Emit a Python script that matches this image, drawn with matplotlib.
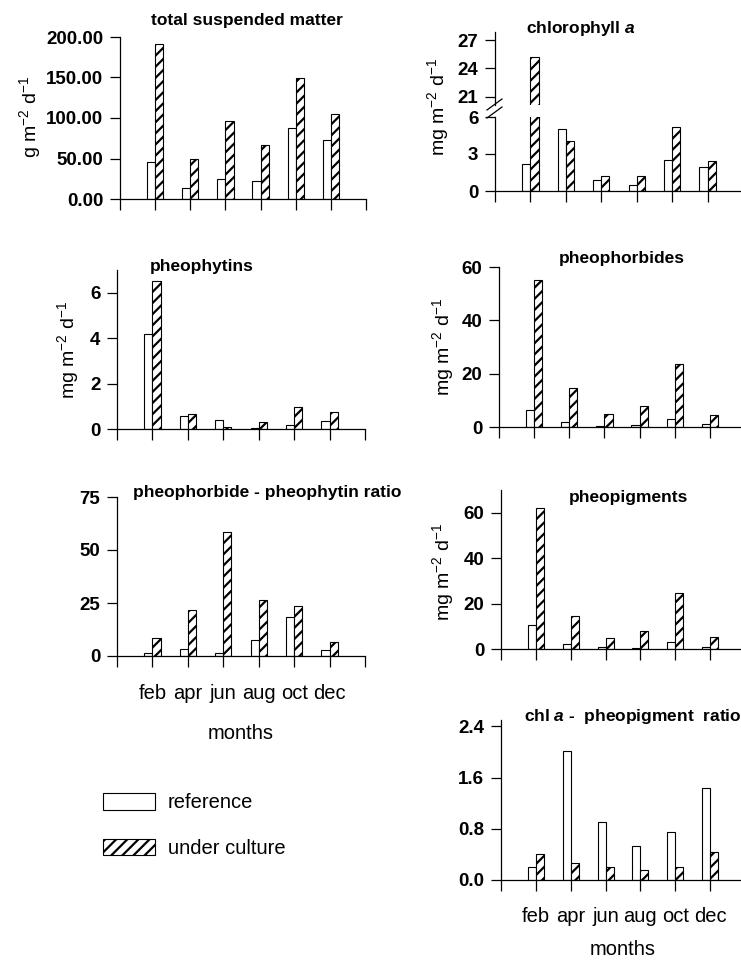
import numpy as np
import matplotlib
matplotlib.use("Agg")
import matplotlib.pyplot as plt
from matplotlib.lines import Line2D

plt.rcParams['font.family'] = ['Liberation Sans', 'DejaVu Sans']
plt.rcParams['mathtext.fontset'] = 'custom'
plt.rcParams['mathtext.rm'] = 'Liberation Sans'
plt.rcParams['mathtext.it'] = 'Liberation Sans:bold:italic'
plt.rcParams['mathtext.bf'] = 'Liberation Sans:bold'
plt.rcParams['hatch.linewidth'] = 1.6
plt.rcParams['axes.linewidth'] = 0.9

# data
months = ['feb', 'apr', 'jun', 'aug', 'oct', 'dec']
tsm_ref = [46, 14, 25, 22, 88, 73]
tsm_cult = [191, 50, 96, 67, 149, 105]
chl_ref = [2.2, 5.0, 0.88, 0.48, 2.52, 1.94]
chl_cult = [25.2, 4.06, 1.19, 1.25, 5.18, 2.42]
phy_ref = [4.2, 0.56, 0.38, 0.04, 0.16, 0.34]
phy_cult = [6.5, 0.66, 0.09, 0.29, 0.97, 0.74]
pbd_ref = [6.5, 1.9, 0.4, 0.6, 3.1, 1.25]
pbd_cult = [55.3, 14.5, 5.0, 8.0, 23.8, 4.6]
rat_ref = [1.6, 3.5, 1.4, 7.4, 18.2, 3.0]
rat_cult = [8.5, 21.9, 58.5, 26.6, 23.7, 6.4]
pig_ref = [10.6, 2.2, 0.7, 0.4, 3.2, 1.0]
pig_cult = [62.2, 14.7, 4.9, 8.0, 24.6, 5.2]
cp_ref = [0.2, 2.02, 0.90, 0.53, 0.75, 1.43]
cp_cult = [0.41, 0.27, 0.21, 0.15, 0.20, 0.44]

W, H = 741, 965
fig = plt.figure(figsize=(W / 100, H / 100), dpi=100)


def box(x0, x1, ytop, ybot):
    # pixel box -> figure fraction rect
    return [x0 / W, 1 - ybot / H, (x1 - x0) / W, (ybot - ytop) / H]


def fx(x):
    return x / W


def fy(y):
    return 1 - y / H


bw = 0.23
xpos = np.arange(1, len(months) + 1)
ytick_kw = dict(direction='out', length=7, width=0.9, pad=5, labelsize=13.5)


def panel(rect, ref, cult, ylim, yticks, fmt, show_months=False,
          tickpad=12.5, labelpad=15):
    ax = fig.add_axes(rect)
    b1 = ax.bar(xpos - bw / 2, ref, bw, color='white', edgecolor='black',
                linewidth=0.8, label='reference')
    b2 = ax.bar(xpos + bw / 2, cult, bw, color='white', edgecolor='black',
                linewidth=0.8, hatch='///', label='under culture')
    ax.set_xlim(0, 7)
    ax.set_ylim(*ylim)
    ax.set_yticks(yticks)
    ax.set_yticklabels([fmt.format(v) for v in yticks], fontweight='bold')
    ax.set_xticks(range(8))
    if show_months:
        ax.set_xticklabels([''] + months + [''])
        ax.set_xlabel('months', fontsize=14.5, labelpad=labelpad)
    else:
        ax.set_xticklabels([''] * 8)
    ax.spines['top'].set_visible(False)
    ax.spines['right'].set_visible(False)
    ax.tick_params(axis='y', **ytick_kw)
    ax.tick_params(axis='x', direction='out', length=8, width=0.9,
                   pad=tickpad, labelsize=14.5)
    return ax, b1, b2


# total suspended matter
ax1, h_ref, h_cult = panel(box(120, 366, 37, 199), tsm_ref, tsm_cult,
                           (0, 200), [0, 50, 100, 150, 200], '{:.2f}')
fig.text(fx(247), fy(20), 'total suspended matter', ha='center', va='center',
         fontsize=12.5, fontweight='bold')
fig.text(fx(30), fy(117), 'g m$^{-2}$ d$^{-1}$', rotation=90, ha='center',
         va='center', fontsize=14)

# chlorophyll a (broken axis)
ax2, _, _ = panel(box(495, 743, 117, 191), chl_ref, chl_cult,
                  (0, 6), [0, 3, 6], '{:.0f}')
ax2t = fig.add_axes(box(495, 743, 32, 105))
ax2t.bar(xpos - bw / 2, chl_ref, bw, color='white', edgecolor='black',
         linewidth=0.8)
ax2t.bar(xpos + bw / 2, chl_cult, bw, color='white', edgecolor='black',
         linewidth=0.8, hatch='///')
ax2t.set_xlim(0, 7)
ax2t.set_ylim(20.15, 27.85)
ax2t.set_yticks([21, 24, 27])
ax2t.set_yticklabels(['21', '24', '27'], fontweight='bold')
for s in ['top', 'right', 'bottom']:
    ax2t.spines[s].set_visible(False)
ax2t.set_xticks([])
ax2t.tick_params(axis='y', **ytick_kw)
for (xa, ya, xb, yb) in [(487, 110, 502, 99), (487, 118, 502, 107)]:
    fig.add_artist(Line2D([fx(xa), fx(xb)], [fy(ya), fy(yb)], color='black',
                          linewidth=0.9, transform=fig.transFigure))
fig.text(fx(581), fy(29), 'chlorophyll $a$', ha='center', va='center',
         fontsize=12.5, fontweight='bold')
fig.text(fx(438), fy(107), 'mg m$^{-2}$ d$^{-1}$', rotation=90, ha='center',
         va='center', fontsize=14)

# pheophytins
panel(box(117, 365, 270, 429), phy_ref, phy_cult, (0, 7), [0, 2, 4, 6],
      '{:.0f}')
fig.text(fx(202), fy(267), 'pheophytins', ha='center', va='center',
         fontsize=12.5, fontweight='bold')
fig.text(fx(68), fy(350), 'mg m$^{-2}$ d$^{-1}$', rotation=90, ha='center',
         va='center', fontsize=14)

# pheophorbides
panel(box(499, 745, 267, 427), pbd_ref, pbd_cult, (0, 60), [0, 20, 40, 60],
      '{:.0f}')
fig.text(fx(622), fy(259), 'pheophorbides', ha='center', va='center',
         fontsize=12.5, fontweight='bold')
fig.text(fx(443), fy(347), 'mg m$^{-2}$ d$^{-1}$', rotation=90, ha='center',
         va='center', fontsize=14)

# pheophorbide - pheophytin ratio
panel(box(117, 365, 497, 656), rat_ref, rat_cult, (0, 75), [0, 25, 50, 75],
      '{:.0f}', show_months=True)
fig.text(fx(133), fy(492), 'pheophorbide - pheophytin ratio', ha='left',
         va='center', fontsize=12.5, fontweight='bold')

# pheopigments
panel(box(501, 745, 490, 649), pig_ref, pig_cult, (0, 70), [0, 20, 40, 60],
      '{:.0f}')
fig.text(fx(629), fy(498), 'pheopigments', ha='center', va='center',
         fontsize=12.5, fontweight='bold')
fig.text(fx(443), fy(572), 'mg m$^{-2}$ d$^{-1}$', rotation=90, ha='center',
         va='center', fontsize=14)

# chl a - pheopigment ratio
panel(box(501, 745, 720, 880), cp_ref, cp_cult, (0, 2.5),
      [0, 0.8, 1.6, 2.4], '{:.1f}', show_months=True, tickpad=11.5,
      labelpad=10)
fig.text(fx(524), fy(717), 'chl $a$ -  pheopigment  ratio', ha='left',
         va='center', fontsize=12.5, fontweight='bold')

fig.legend(handles=[h_ref, h_cult], loc='upper left',
           bbox_to_anchor=(fx(87), fy(777)), frameon=False, fontsize=14.5,
           handlelength=2.6, handleheight=0.9, handletextpad=0.6,
           labelspacing=1.3, borderpad=0.3)

fig.savefig('out.png', dpi=100)
